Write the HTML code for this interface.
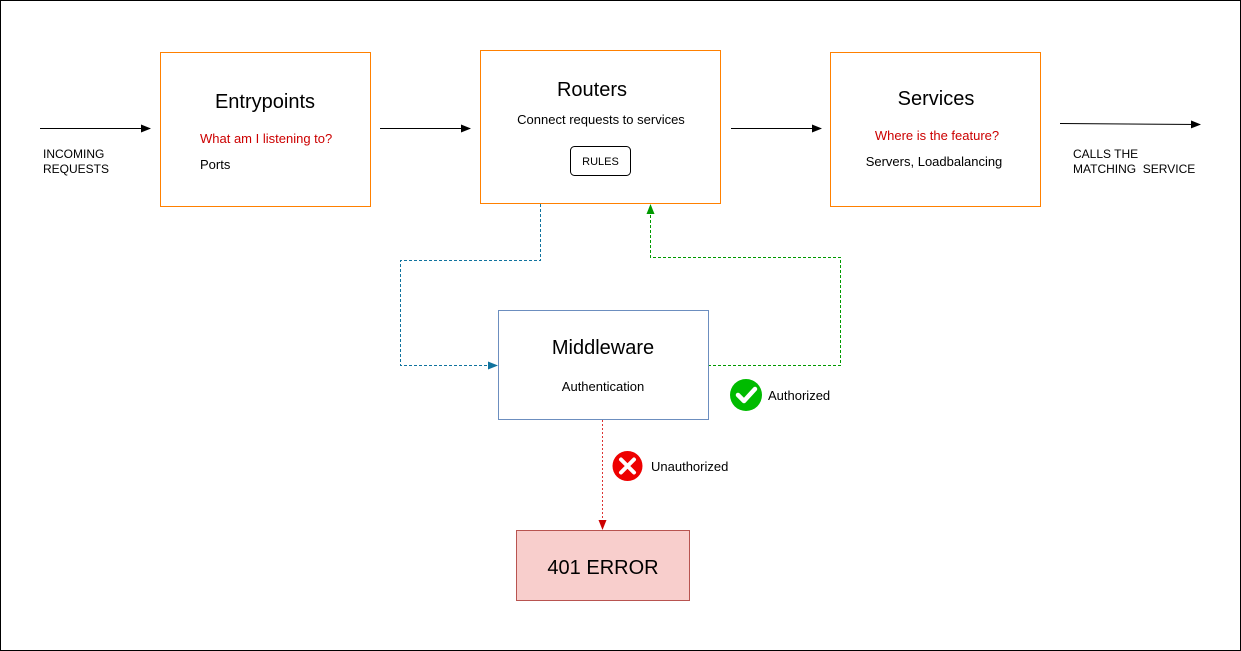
<!DOCTYPE html>
<html><head><meta charset="utf-8"><style>
html,body{margin:0;padding:0;background:#fff;}
svg{display:block;font-family:"Liberation Sans",Arial,sans-serif;}
</style></head><body>
<svg width="1241" height="651" viewBox="0 0 1241 651" xmlns="http://www.w3.org/2000/svg">
<defs>
<marker id="ab" markerWidth="10" markerHeight="8" refX="9" refY="4" orient="auto" markerUnits="userSpaceOnUse"><path d="M0,0 L10,4 L0,8 Z" fill="#000"/></marker>
<marker id="abl" markerWidth="10" markerHeight="8" refX="9" refY="4" orient="auto" markerUnits="userSpaceOnUse"><path d="M0,0 L10,4 L0,8 Z" fill="#10739e"/></marker>
<marker id="ag" markerWidth="10" markerHeight="8" refX="9" refY="4" orient="auto" markerUnits="userSpaceOnUse"><path d="M0,0 L10,4 L0,8 Z" fill="#009900"/></marker>
<marker id="ar" markerWidth="10" markerHeight="8" refX="9" refY="4" orient="auto" markerUnits="userSpaceOnUse"><path d="M0,0 L10,4 L0,8 Z" fill="#cc0000"/></marker>
</defs>
<rect x="0.5" y="0.5" width="1240" height="650" fill="#fff" stroke="#000"/>

<line x1="40" y1="128.5" x2="150" y2="128.5" stroke="#000" marker-end="url(#ab)"/>
<line x1="380" y1="128.5" x2="470" y2="128.5" stroke="#000" marker-end="url(#ab)"/>
<line x1="731" y1="128.5" x2="821" y2="128.5" stroke="#000" marker-end="url(#ab)"/>
<line x1="1060" y1="123.5" x2="1200" y2="124.5" stroke="#000" marker-end="url(#ab)"/>

<text x="43" y="158" font-size="12" fill="#000">INCOMING</text>
<text x="43" y="173" font-size="12" fill="#000">REQUESTS</text>
<text x="1073" y="158" font-size="12" fill="#000">CALLS THE</text>
<text x="1073" y="173" font-size="12" fill="#000">MATCHING&#160; SERVICE</text>

<rect x="160.5" y="52.5" width="210" height="154" fill="#fff" stroke="#ff8000"/>
<text x="265" y="108" font-size="20" text-anchor="middle">Entrypoints</text>
<text x="200" y="143" font-size="13" fill="#cc0000">What am I listening to?</text>
<text x="200" y="169" font-size="13">Ports</text>

<rect x="480.5" y="50.5" width="240" height="153" fill="#fff" stroke="#ff8000"/>
<text x="592" y="96" font-size="20" text-anchor="middle">Routers</text>
<text x="601" y="124" font-size="13" text-anchor="middle">Connect requests to services</text>
<rect x="570.5" y="146.5" width="60" height="29" rx="4" fill="#fff" stroke="#000"/>
<text x="600.5" y="165" font-size="11" text-anchor="middle">RULES</text>

<rect x="830.5" y="52.5" width="210" height="154" fill="#fff" stroke="#ff8000"/>
<text x="936" y="105" font-size="20" text-anchor="middle">Services</text>
<text x="937" y="140" font-size="13" fill="#cc0000" text-anchor="middle">Where is the feature?</text>
<text x="934" y="166" font-size="13" text-anchor="middle">Servers, Loadbalancing</text>

<polyline points="540.5,204 540.5,260.5 400.5,260.5 400.5,365.5 497,365.5" fill="none" stroke="#10739e" stroke-dasharray="3,2" marker-end="url(#abl)"/>
<polyline points="708,365.5 840.5,365.5 840.5,257.5 650.5,257.5 650.5,205" fill="none" stroke="#009900" stroke-dasharray="3,2" marker-end="url(#ag)"/>
<line x1="602.5" y1="420" x2="602.5" y2="529" stroke="#dd3333" stroke-dasharray="2,2" marker-end="url(#ar)"/>

<rect x="498.5" y="310.5" width="210" height="109" fill="#fff" stroke="#6c8ebf"/>
<text x="603" y="354" font-size="20" text-anchor="middle">Middleware</text>
<text x="603" y="391" font-size="13" text-anchor="middle">Authentication</text>

<circle cx="746" cy="395" r="16" fill="#00bb00"/>
<path d="M738,395 L744,401 L755,389" fill="none" stroke="#fff" stroke-width="4.5" stroke-linecap="round" stroke-linejoin="round"/>
<text x="768" y="400" font-size="13">Authorized</text>

<circle cx="627.5" cy="466" r="15" fill="#ee0000"/>
<path d="M621,459.5 L634,472.5 M634,459.5 L621,472.5" stroke="#fff" stroke-width="4" stroke-linecap="round"/>
<text x="651" y="471" font-size="13">Unauthorized</text>

<rect x="516.5" y="530.5" width="173" height="70" fill="#f8cecc" stroke="#b85450"/>
<text x="603" y="574" font-size="20" text-anchor="middle">401 ERROR</text>
</svg>
</body></html>
